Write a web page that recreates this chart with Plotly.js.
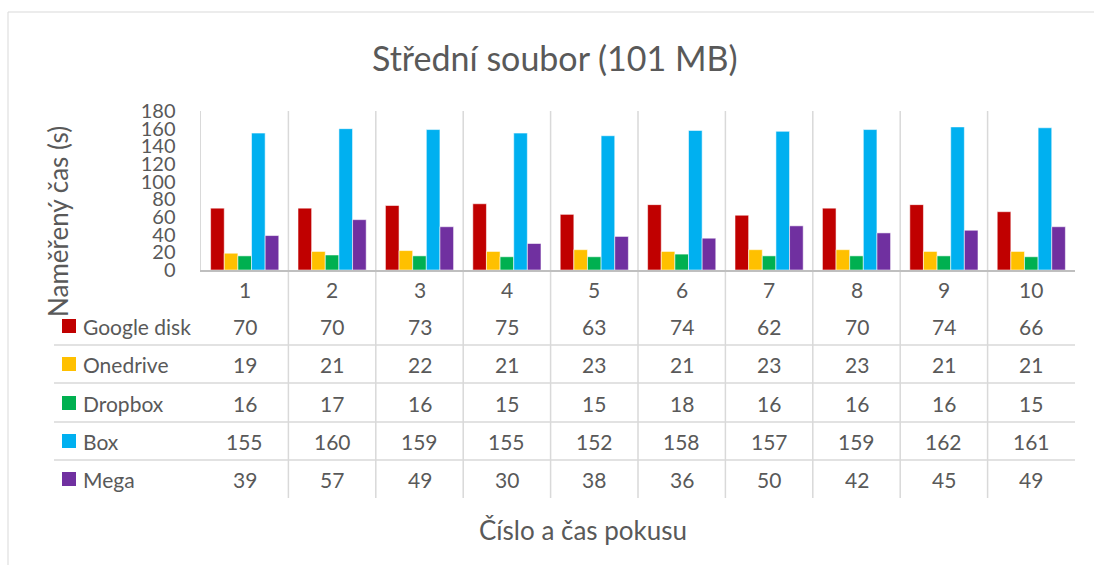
<!DOCTYPE html>
<html>
<head>
<meta charset="utf-8">
<script src="https://cdn.plot.ly/plotly-3.0.1.min.js"></script>
<style>
html,body{margin:0;padding:0;background:#fff;}
#chart{width:1094px;height:565px;}
</style>
</head>
<body>
<div id="chart"></div>
<script>
// ---- data ----
const categories = ["1","2","3","4","5","6","7","8","9","10"];
const seriesNames = ["Google disk","Onedrive","Dropbox","Box","Mega"];
const googleDisk = [70,70,73,75,63,74,62,70,74,66];
const onedrive   = [19,21,22,21,23,21,23,23,21,21];
const dropbox    = [16,17,16,15,15,18,16,16,16,15];
const box        = [155,160,159,155,152,158,157,159,162,161];
const mega       = [39,57,49,30,38,36,50,42,45,49];
const yTicks     = [0,20,40,60,80,100,120,140,160,180];
const titleText  = "Střední soubor (101 MB)";
const yTitleText = "Naměřený čas (s)";
const xTitleText = "Číslo a čas pokusu";

const seriesValues = [googleDisk, onedrive, dropbox, box, mega];
const colors = ["#C00000","#FFC000","#00B050","#00B0F0","#7030A0"];

// ---- geometry (pixels) ----
const W = 1094, H = 565;
const L = 201, R = 1075, T = 111, B = 270;
const pw = R - L, ph = B - T;
const px = x => (x - L) / pw;
const py = y => (B - y) / ph;
const FONT = "Lato, 'Open Sans', sans-serif";
const TXT = "#595959";

const traces = seriesValues.map((vals, i) => ({
  type: "bar",
  name: seriesNames[i],
  x: categories,
  y: vals,
  marker: {color: colors[i], line: {color: "rgba(255,255,255,0.55)", width: 1}},
  hoverinfo: "x+y+name"
}));

const shapes = [];
const annotations = [];

// outer chart border
shapes.push({type:"rect", xref:"paper", yref:"paper",
  x0:px(8), x1:px(1110), y0:py(12), y1:py(580),
  line:{color:"#D9D9D9", width:1}, fillcolor:"rgba(0,0,0,0)", layer:"below"});

// vertical category separators (plot + table)
const tableBottom = 498;
for (let i = 0; i < categories.length - 1; i++) {
  shapes.push({type:"line", xref:"x", yref:"paper",
    x0:i+0.5, x1:i+0.5, y0:py(tableBottom), y1:1,
    line:{color:"#D9D9D9", width:1.5}, layer:"below"});
}

// table rows
const headerY = 289;
const rowY = [326, 364, 403, 441, 479];
const rowLines = [345, 383, 422, 460];
rowLines.forEach(y => {
  shapes.push({type:"line", xref:"paper", yref:"paper",
    x0:px(54), x1:1, y0:py(y), y1:py(y),
    line:{color:"#D9D9D9", width:1.5}, layer:"below"});
});

// header row: category labels (x given as category index)
categories.forEach((c, i) => {
  annotations.push({xref:"x", yref:"paper", x:i, y:py(headerY), text:c,
    showarrow:false, xanchor:"center", yanchor:"middle",
    font:{family:FONT, size:21, color:TXT}});
});

seriesValues.forEach((vals, r) => {
  // legend key
  shapes.push({type:"rect", xref:"paper", yref:"paper",
    x0:px(62), x1:px(76), y0:py(rowY[r]+7), y1:py(rowY[r]-7),
    fillcolor:colors[r], line:{width:0}});
  annotations.push({xref:"paper", yref:"paper", x:px(81), y:py(rowY[r]),
    text:seriesNames[r], showarrow:false, xanchor:"left", yanchor:"middle",
    font:{family:FONT, size:21, color:TXT}});
  vals.forEach((v, i) => {
    annotations.push({xref:"x", yref:"paper", x:i, y:py(rowY[r]),
      text:String(v), showarrow:false, xanchor:"center", yanchor:"middle",
      font:{family:FONT, size:21, color:TXT}});
  });
});

// titles
annotations.push({xref:"paper", yref:"paper", x:px(555), y:py(57), text:titleText,
  showarrow:false, xanchor:"center", yanchor:"middle",
  font:{family:FONT, size:34, color:TXT}});
annotations.push({xref:"paper", yref:"paper", x:px(58), y:py(222), text:yTitleText,
  showarrow:false, xanchor:"center", yanchor:"middle", textangle:-90,
  font:{family:FONT, size:26, color:TXT}});
annotations.push({xref:"paper", yref:"paper", x:px(583), y:py(530), text:xTitleText,
  showarrow:false, xanchor:"center", yanchor:"middle",
  font:{family:FONT, size:26, color:TXT}});

const layout = {
  width: W, height: H,
  margin: {l: L, r: W - R, t: T, b: H - B, pad: 0},
  paper_bgcolor: "#ffffff", plot_bgcolor: "#ffffff",
  showlegend: false,
  barmode: "group",
  bargap: 0.22,
  bargroupgap: 0,
  xaxis: {type:"category", categoryarray: categories, range:[-0.5, categories.length - 0.5],
    showticklabels:false, showgrid:false, zeroline:false, showline:true,
    linecolor:"#BFBFBF", linewidth:1.5, ticks:"", fixedrange:true},
  yaxis: {range:[0,180], tickvals: yTicks, ticktext: yTicks.map(String),
    showgrid:false, zeroline:false, showline:true, linecolor:"#D9D9D9", linewidth:1.5,
    ticks:"", ticklabelstandoff: 20,
    tickfont:{family:FONT, size:20, color:TXT}, fixedrange:true},
  shapes: shapes,
  annotations: annotations
};

Plotly.newPlot("chart", traces, layout, {displayModeBar:false, staticPlot:true});
</script>
</body>
</html>
